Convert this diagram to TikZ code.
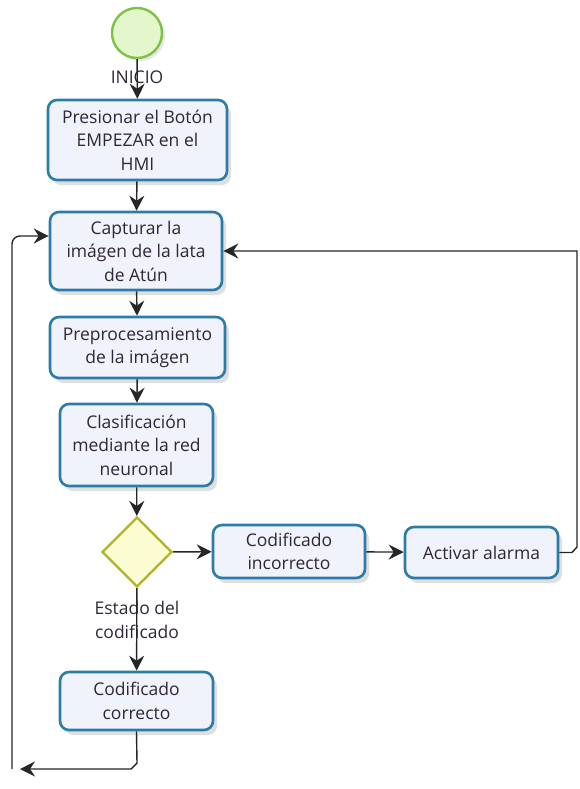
\documentclass[tikz,border=0pt]{standalone}
\usepackage{fontspec}
\setmainfont{Open Sans}
\usetikzlibrary{shapes.geometric,arrows.meta,shadows}
\definecolor{boxline}{HTML}{2B7CA6}
\definecolor{boxfill}{HTML}{F0F3FC}
\definecolor{startline}{HTML}{7DC242}
\definecolor{startfill}{HTML}{E4F7CC}
\definecolor{gateline}{HTML}{B3B32A}
\definecolor{gatefill}{HTML}{FCFCD2}
\definecolor{txt}{HTML}{30263A}
\begin{document}
\begin{tikzpicture}[x=1pt,y=-1pt,
  font=\fontsize{17.5}{23.5}\selectfont, text=txt,
  task/.style={draw=boxline, line width=2.6pt, fill=boxfill, rounded corners=9pt,
    align=center, inner sep=0pt,
    drop shadow={opacity=0.25, shadow xshift=4pt, shadow yshift=-5pt}},
  startev/.style={circle, draw=startline, line width=2.4pt, fill=startfill,
    minimum size=50pt, inner sep=0pt,
    drop shadow={opacity=0.2, shadow xshift=3pt, shadow yshift=-3pt}},
  gate/.style={diamond, draw=gateline, line width=2.4pt, fill=gatefill,
    minimum width=70pt, minimum height=70pt, inner sep=0pt},
  flow/.style={draw=black!85, line width=1.4pt, -{Stealth[length=15pt,width=15pt,inset=5pt]}}]
\useasboundingbox (0,0) rectangle (580,789);

% events, tasks and gateway
\node[startev] (start) at (137,33) {};
\node[task, minimum width=179pt, minimum height=80pt] (press) at (137.5,140) {Presionar el Botón\\EMPEZAR en el\\HMI};
\node[task, minimum width=172pt, minimum height=78pt] (capt) at (136,251) {Capturar la\\imágen de la lata\\de Atún};
\node[task, minimum width=175pt, minimum height=61pt] (prep) at (137.5,347.5) {Preprocesamiento\\de la imágen};
\node[task, minimum width=153pt, minimum height=82pt] (clas) at (136.5,445) {Clasificación\\mediante la red\\neuronal};
\node[gate] (gw) at (137,552) {};
\node[task, minimum width=152pt, minimum height=53pt] (inc) at (289,551.5) {Codificado\\incorrecto};
\node[task, minimum width=153pt, minimum height=51pt] (alarm) at (481.5,552.5) {Activar alarma};
\node[task, minimum width=153pt, minimum height=58pt] (corr) at (136.5,701) {Codificado\\correcto};

% labels
\node (lblstart) at (137,77) {INICIO};
\node[align=center] (lblgw) at (137,620) {Estado del\\codificado};

% sequence flows
\draw[flow] (start) -- (press);
\draw[flow] (press) -- (capt);
\draw[flow] (capt) -- (prep);
\draw[flow] (prep) -- (clas);
\draw[flow] (clas) -- (gw);
\draw[flow] (gw) -- (inc);
\draw[flow] (inc) -- (alarm);
\draw[flow] (gw) -- (corr);

% return from the alarm to the capture step
\coordinate (rtop) at (577,251);
\draw[flow] (alarm.east) -- (572,552.5) -- (577,547) -- (rtop) -- (capt.east);

% return from the correct branch
\coordinate (lbot) at (20,769);
\coordinate (ltop) at (12,236);
\draw[flow] (corr.south) -- (137,763) -- (131,769) -- (lbot);
\draw[flow, rounded corners=8pt] (12,769) -- (ltop) -- (capt.west |- ltop);
\end{tikzpicture}
\end{document}
